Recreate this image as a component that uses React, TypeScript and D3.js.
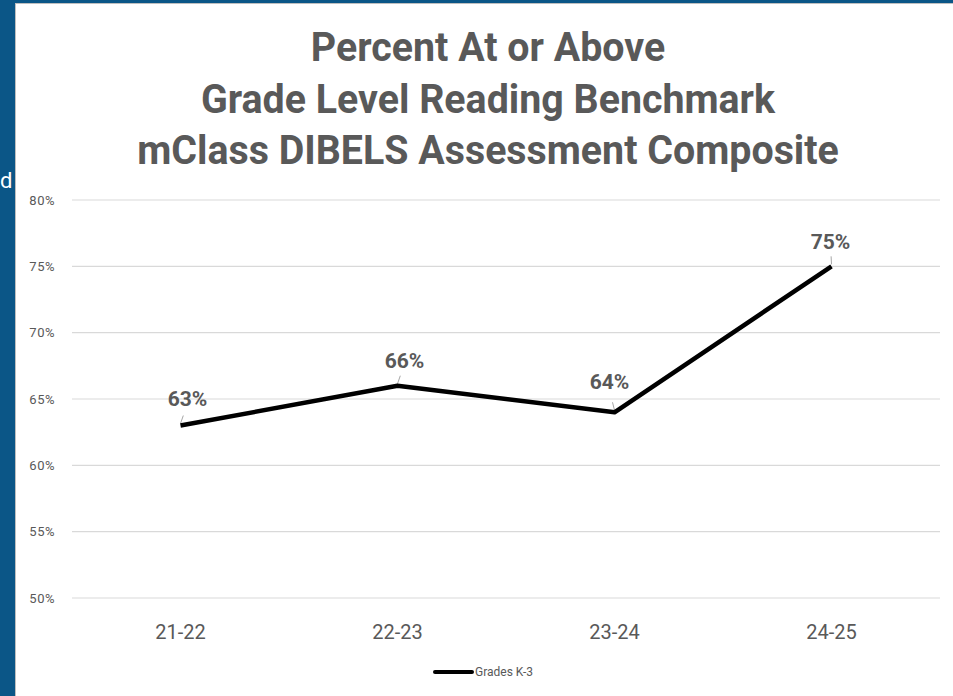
import React from "react";
import { scaleBand, scaleLinear, line } from "d3";

const WIDTH = 953;
const HEIGHT = 696;

const TITLE_LINES = [
    "Percent At or Above",
    "Grade Level Reading Benchmark",
    "mClass DIBELS Assessment Composite",
];
const CATEGORIES = ["21-22", "22-23", "23-24", "24-25"];
const VALUES = [63, 66, 64, 75];
const Y_TICKS = [50, 55, 60, 65, 70, 75, 80];
const SERIES_NAME = "Grades K-3";

// label offsets relative to the point (dx, dy)
const LABEL_OFFSETS: [number, number][] = [
    [7, -28],
    [7, -26],
    [-5, -31],
    [-1, -25],
];

const TEXT_COLOR = "#595959";
const GRID_COLOR = "#d9d9d9";
const FONT = "Roboto, 'Liberation Sans', sans-serif";

const PLOT_LEFT = 72;
const PLOT_RIGHT = 940;
const PLOT_TOP = 200;
const PLOT_BOTTOM = 598;

export default function App() {
    const x = scaleBand<string>().domain(CATEGORIES).range([PLOT_LEFT, PLOT_RIGHT]);
    const y = scaleLinear().domain([50, 80]).range([PLOT_BOTTOM, PLOT_TOP]);
    const cx = (c: string) => (x(c) ?? 0) + x.bandwidth() / 2;

    const points = CATEGORIES.map((c, i) => ({ c, v: VALUES[i] }));
    const path = line<{ c: string; v: number }>()
        .x(d => cx(d.c))
        .y(d => y(d.v))(points);

    return (
        <svg
            width={WIDTH}
            height={HEIGHT}
            style={{ position: "absolute", left: 0, top: 0, display: "block" }}
        >
            <rect x={0} y={0} width={WIDTH} height={HEIGHT} fill="#0b5687" />
            <rect x={15} y={3} width={WIDTH - 15} height={HEIGHT - 3} fill="#bfbfbf" />
            <rect x={16} y={4} width={WIDTH - 16} height={HEIGHT - 4} fill="#ffffff" />
            <text x={0} y={188} fontFamily={FONT} fontSize={22} fill="#ffffff">
                d
            </text>

            {TITLE_LINES.map((t, i) => (
                <text
                    key={t}
                    transform={`translate(488,${61 + i * 51.5}) scale(0.96,1)`}
                    textAnchor="middle"
                    fontFamily={FONT}
                    fontWeight="bold"
                    fontSize={41}
                    fill={TEXT_COLOR}
                >
                    {t}
                </text>
            ))}

            {Y_TICKS.map(t => (
                <g key={t}>
                    <line
                        x1={PLOT_LEFT}
                        x2={PLOT_RIGHT}
                        y1={y(t)}
                        y2={y(t)}
                        stroke={GRID_COLOR}
                        strokeWidth={1.2}
                    />
                    <text
                        x={55}
                        y={y(t) + 4.5}
                        textAnchor="end"
                        fontFamily={FONT}
                        fontSize={13}
                        letterSpacing={0.5}
                        fill={TEXT_COLOR}
                    >
                        {t}%
                    </text>
                </g>
            ))}

            {CATEGORIES.map(c => (
                <text
                    key={c}
                    x={cx(c)}
                    y={639}
                    textAnchor="middle"
                    fontFamily={FONT}
                    fontSize={20}
                    fill={TEXT_COLOR}
                >
                    {c}
                </text>
            ))}

            {points.map((d, i) => (
                <line
                    key={"lead" + d.c}
                    x1={cx(d.c)}
                    y1={y(d.v) - 2}
                    x2={cx(d.c) + LABEL_OFFSETS[i][0] * 0.4}
                    y2={y(d.v) - 10}
                    stroke="#a6a6a6"
                    strokeWidth={1}
                />
            ))}

            <path d={path ?? ""} fill="none" stroke="#000000" strokeWidth={4.5} strokeLinejoin="round" />

            {points.map((d, i) => (
                <text
                    key={"lbl" + d.c}
                    x={cx(d.c) + LABEL_OFFSETS[i][0]}
                    y={y(d.v) + LABEL_OFFSETS[i][1] + 8}
                    textAnchor="middle"
                    fontFamily={FONT}
                    fontWeight="bold"
                    fontSize={21}
                    fill={TEXT_COLOR}
                >
                    {d.v}%
                </text>
            ))}

            <line x1={435} x2={472} y1={672} y2={672} stroke="#000000" strokeWidth={4} strokeLinecap="round" />
            <text x={475} y={676} fontFamily={FONT} fontSize={12} fill={TEXT_COLOR}>
                {SERIES_NAME}
            </text>
        </svg>
    );
}
